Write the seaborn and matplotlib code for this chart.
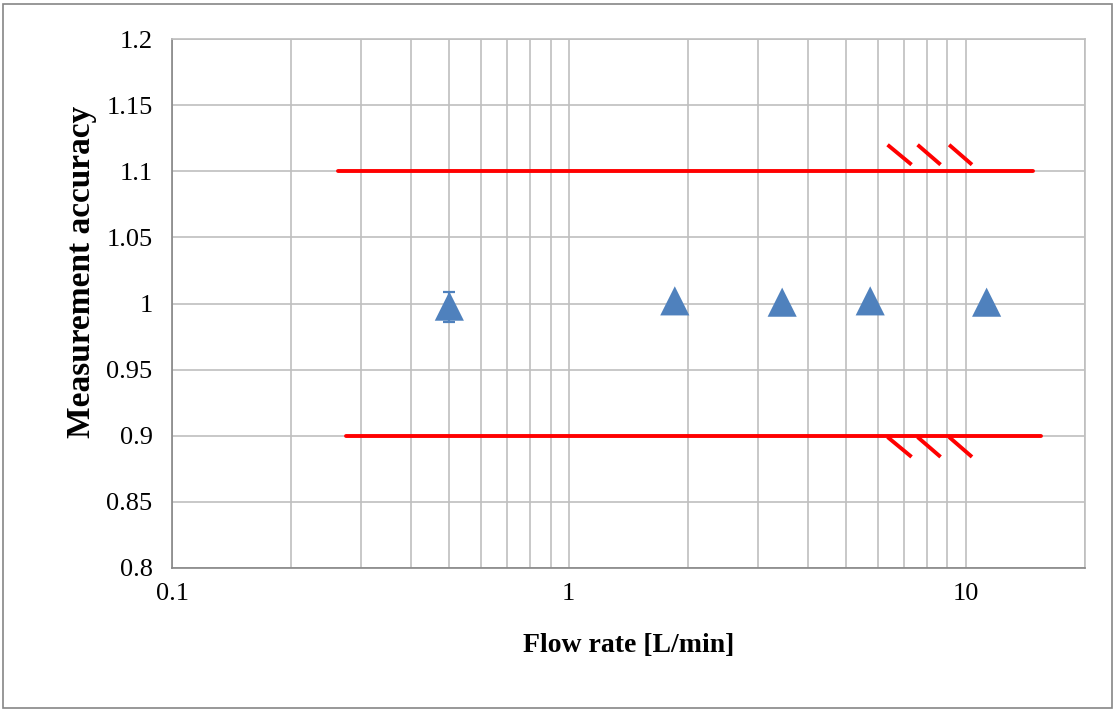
import numpy as np
import pandas as pd
import matplotlib
matplotlib.use("Agg")
import matplotlib.pyplot as plt
import seaborn as sns
from matplotlib.ticker import FixedLocator, NullFormatter
from matplotlib.patches import Rectangle

# 测量数据
flow = [0.5, 1.85, 3.45, 5.75, 11.3]
accuracy = [0.998, 1.002, 1.001, 1.002, 1.001]
err_low = [0.012, 0, 0, 0, 0]
err_high = [0.011, 0, 0, 0, 0]

# 上下限 (±10%)
upper_x = [0.262, 14.8]
upper_y = [1.1, 1.1]
lower_x = [0.275, 15.5]
lower_y = [0.9, 0.9]

# 限值线上的斜线标记
upper_hatch_x = [[6.36, 7.31], [7.57, 8.65], [9.09, 10.38]]
upper_hatch_y = [1.12, 1.105]
lower_hatch_x = [[6.36, 7.31], [7.57, 8.65], [9.09, 10.38]]
lower_hatch_y = [0.899, 0.884]

x_major = [0.1, 1, 10]
y_ticks = [0.8, 0.85, 0.9, 0.95, 1.0, 1.05, 1.1, 1.15, 1.2]

sns.set_style("white")
plt.rcParams["font.family"] = ["Liberation Serif", "DejaVu Serif"]
plt.rcParams["text.color"] = "black"
plt.rcParams["xtick.color"] = "black"
plt.rcParams["ytick.color"] = "black"
plt.rcParams["axes.labelcolor"] = "black"

fig = plt.figure(figsize=(11.16, 7.11), dpi=100)
ax = fig.add_axes([172 / 1116, 1 - 568 / 711, (1085 - 172) / 1116, (568 - 39) / 711])

grid_c = "#BFBFBF"
axis_c = "#868686"
blue = "#4F81BD"
red = "#FF0000"

# 网格线
minor = [m * 10.0 ** e for e in (-1, 0, 1) for m in range(2, 10)]
minor = [v for v in minor if v <= 20]
for v in minor + x_major + [20]:
    ax.axvline(v, color=grid_c, lw=1.2, zorder=0)
for v in y_ticks:
    ax.axhline(v, color=grid_c, lw=1.2, zorder=0)

# 限值线
sns.lineplot(x=upper_x, y=upper_y, color=red, lw=2.8, ax=ax, zorder=3)
sns.lineplot(x=lower_x, y=lower_y, color=red, lw=2.8, ax=ax, zorder=3)
for hx in upper_hatch_x:
    ax.plot(hx, upper_hatch_y, color=red, lw=2.8, zorder=3, solid_capstyle="butt")
for hx in lower_hatch_x:
    ax.plot(hx, lower_hatch_y, color=red, lw=2.8, zorder=3, solid_capstyle="butt")

# 误差棒和数据点
ax.errorbar(flow[:1], accuracy[:1], yerr=[err_low[:1], err_high[:1]], fmt="none",
            ecolor=blue, elinewidth=1.6, capsize=4.5, capthick=1.6, zorder=4)
df = pd.DataFrame({"flow": flow, "accuracy": accuracy})
sns.scatterplot(data=df, x="flow", y="accuracy", marker="^", s=440, color=blue,
                edgecolor="none", ax=ax, zorder=5)

ax.set_xscale("log")
ax.set_xlim(0.1, 20)
ax.set_ylim(0.8, 1.2)
ax.xaxis.set_major_locator(FixedLocator(x_major))
ax.set_xticklabels(["0.1", "1", "10"])
ax.xaxis.set_minor_locator(FixedLocator([]))
ax.xaxis.set_minor_formatter(NullFormatter())
ax.set_yticks(y_ticks)
ax.set_yticklabels([f"{v:g}" for v in y_ticks])
ax.tick_params(axis="both", direction="out", length=6, width=1.2, color=axis_c,
               labelcolor="black", labelsize=19, pad=8)
ax.tick_params(axis="x", pad=5)

for s in ["left", "bottom"]:
    ax.spines[s].set_color(axis_c)
    ax.spines[s].set_linewidth(1.2)
for s in ["top", "right"]:
    ax.spines[s].set_color(grid_c)
    ax.spines[s].set_linewidth(1.2)

ax.set_xlabel("Flow rate [L/min]", fontsize=20, fontweight="bold", color="black",
              labelpad=20)
ax.set_ylabel("Measurement accuracy", fontsize=24, fontweight="bold", color="black")
ax.yaxis.set_label_coords(-0.082, 0.56)

# 外框
fig.patches.append(Rectangle((3 / 1116, 3 / 711), 1 - 7 / 1116, 1 - 7 / 711,
                             transform=fig.transFigure, fill=False,
                             edgecolor=axis_c, lw=1.2))

fig.savefig("out.png", dpi=100)
plt.close()
